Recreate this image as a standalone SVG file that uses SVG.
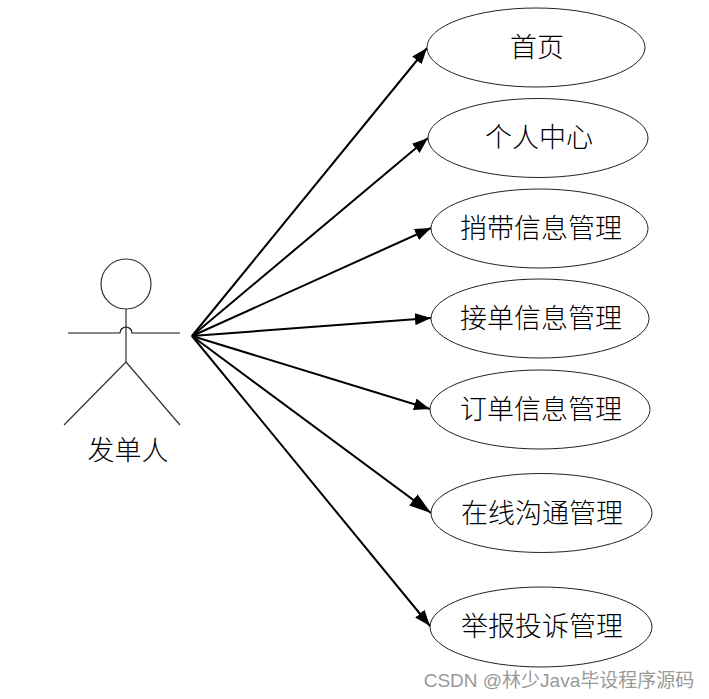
<svg xmlns="http://www.w3.org/2000/svg" width="709" height="699" viewBox="0 0 709 699">
<style>
.n{fill:#fff;stroke:#222;stroke-width:1}
.l{font-family:"Noto Sans CJK SC","Liberation Serif",serif;font-size:27px;font-weight:300;fill:#000;text-anchor:middle}
.c{stroke:#000;stroke-width:2;fill:none;marker-end:url(#a)}
.s{stroke:#333;stroke-width:1.2;fill:none}
</style>
<defs><marker id="a" viewBox="0 0 16 12" refX="16" refY="6" markerWidth="16" markerHeight="12" markerUnits="userSpaceOnUse" orient="auto"><path d="M0 0L16 6L0 12z" fill="#000"/></marker>
<marker id="b" viewBox="0 0 22 14" refX="22" refY="7" markerWidth="22" markerHeight="14" markerUnits="userSpaceOnUse" orient="auto"><path d="M0 0L22 7L0 14z" fill="#000"/></marker></defs>
<g id="connectors">
<path class="c" d="M192 336L427 48"/>
<path class="c" d="M192 336L428 138"/>
<path class="c" d="M192 336L431 228"/>
<path class="c" d="M192 336L431 318"/>
<path class="c" d="M192 336L430 409"/>
<path class="c" d="M192 336L431 513" style="marker-end:url(#b)"/>
<path class="c" d="M192 336L430 626"/>
</g>
<g id="actor">
<circle class="s" cx="126" cy="284" r="25"/>
<path class="s" d="M126 309V362M126 362L64 425M126 362L180 425"/>
<path d="M68 333H120A6 6 0 0 1 132 333H180" fill="none" stroke="#111" stroke-width="1.2"/>
<text class="l" x="128" y="460">发单人</text>
</g>
<g id="n1"><ellipse class="n" cx="536" cy="47.5" rx="109" ry="39.5"/><text class="l" x="537" y="57">首页</text></g>
<g id="n2"><ellipse class="n" cx="538" cy="138" rx="110" ry="39.5"/><text class="l" x="539" y="147">个人中心</text></g>
<g id="n3"><ellipse class="n" cx="539.500" cy="228.500" rx="108.500" ry="39.500"/><text class="l" x="541" y="238">捎带信息管理</text></g>
<g id="n4"><ellipse class="n" cx="540" cy="318.500" rx="109" ry="39.500"/><text class="l" x="541" y="328">接单信息管理</text></g>
<g id="n5"><ellipse class="n" cx="540" cy="409.500" rx="110" ry="39.500"/><text class="l" x="541" y="419">订单信息管理</text></g>
<g id="n6"><ellipse class="n" cx="541.500" cy="513" rx="110.500" ry="39.500"/><text class="l" x="542" y="523">在线沟通管理</text></g>
<g id="n7"><ellipse class="n" cx="541" cy="627" rx="111" ry="40"/><text class="l" x="542" y="636">举报投诉管理</text></g>
<text x="559" y="686.500" style="font-family:'Liberation Sans','Noto Sans CJK SC',sans-serif;font-size:19px;fill:#999;text-anchor:middle">CSDN @林少Java毕设程序源码</text>
</svg>
